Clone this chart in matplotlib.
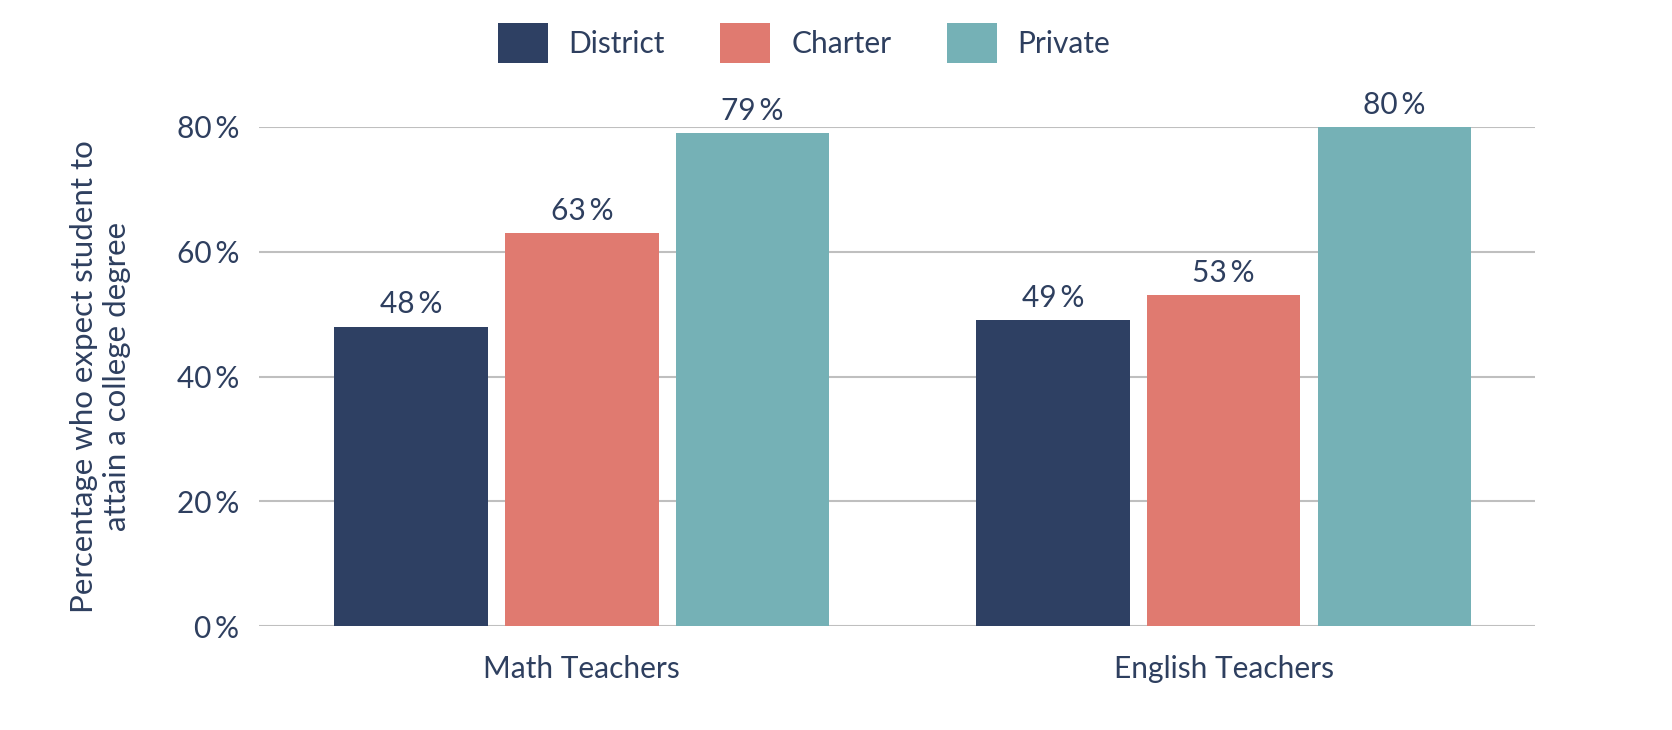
import matplotlib
matplotlib.use("Agg")
import matplotlib.pyplot as plt
import numpy as np

categories = ["Math Teachers", "English Teachers"]
series_names = ["District", "Charter", "Private"]
district = [48, 49]
charter = [63, 53]
private = [79, 80]
yticks = [0, 20, 40, 60, 80]
ylabel = "Percentage who expect student to\nattain a college degree"

colors = ["#2E4063", "#E07A70", "#75B1B6"]
text_color = "#2E3F5F"
plt.rcParams['font.family'] = ['Lato', 'DejaVu Sans']
FS = 21.5

fig = plt.figure(figsize=(16.72, 7.30), dpi=100)
ax = fig.add_axes([259/1672, 1-626/730, (1535-259)/1672, (626-127)/730])

x = np.arange(len(categories))
width = 0.239
step = 0.266
for i, (name, vals) in enumerate(zip(series_names, [district, charter, private])):
    bars = ax.bar(x + (i-1)*step, vals, width, color=colors[i], label=name, zorder=3)
    for b, v in zip(bars, vals):
        ax.annotate(f"{v}\u2009%", (b.get_x()+b.get_width()/2, v), xytext=(0, 6),
                    textcoords="offset points", ha="center", va="bottom",
                    fontsize=FS, color=text_color, annotation_clip=False)

ax.set_xlim(-0.503, 1.485)
ax.set_ylim(0, 80)
ax.set_yticks(yticks)
ax.set_yticklabels([f"{t}\u2009%" for t in yticks])
ax.set_xticks(x)
ax.set_xticklabels(categories)
ax.grid(axis="y", color="#BFBFBF", linewidth=1.5, zorder=0)
ax.set_axisbelow(True)
for s in ax.spines.values():
    s.set_visible(False)
ax.tick_params(axis="both", length=0, labelsize=FS, colors=text_color)
ax.tick_params(axis="y", pad=14)
ax.tick_params(axis="x", pad=21)
ax.set_ylabel(ylabel, fontsize=22.5, color=text_color, linespacing=1.22)
ax.yaxis.set_label_coords(-0.100, 0.5)

leg = fig.legend(loc="center", bbox_to_anchor=(804/1672, 1-43/730), ncol=3,
                 frameon=False, fontsize=FS, handlelength=1.68, handleheight=1.68,
                 handletextpad=0.7, columnspacing=1.85, labelcolor=text_color)

fig.savefig("out.png", dpi=100)
